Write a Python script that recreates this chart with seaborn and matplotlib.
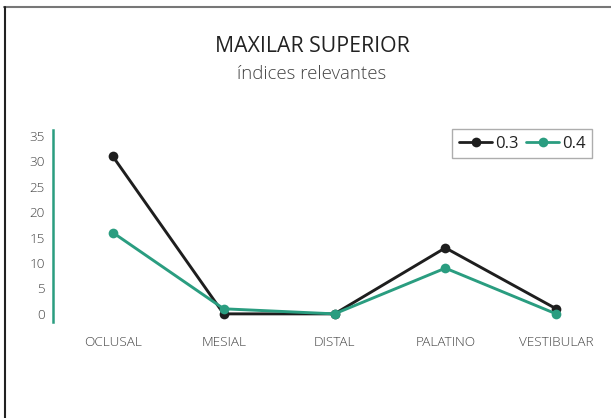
import matplotlib
matplotlib.use("Agg")
import matplotlib.pyplot as plt
import seaborn as sns
import pandas as pd
from matplotlib.lines import Line2D

categories = ["OCLUSAL", "MESIAL", "DISTAL", "PALATINO", "VESTIBULAR"]
series_03 = [31, 0, 0, 13, 1]
series_04 = [16, 1, 0, 9, 0]
series_names = ["0.3", "0.4"]
yticks = [0, 5, 10, 15, 20, 25, 30, 35]

sns.set_theme(style="white")
plt.rcParams["font.family"] = ["Open Sans", "DejaVu Sans"]

rows = []
for name, vals in zip(series_names, [series_03, series_04]):
    for i, (c, v) in enumerate(zip(categories, vals)):
        rows.append({"idx": i, "cat": c, "val": v, "serie": name})
df = pd.DataFrame(rows)

black = "#1e1e1e"
teal = "#2a9d80"

fig = plt.figure(figsize=(6.11, 4.18), dpi=100)
ax = fig.add_axes([53/611, 1-322/418, (595-53)/611, (322-130)/418])

sns.lineplot(data=df, x="idx", y="val", hue="serie", palette=[black, teal],
             marker="o", markersize=7, markeredgewidth=0, linewidth=2.1,
             ax=ax, legend=False)

ax.set_xlim(-0.54, 4.35)
ax.set_ylim(-1.6, 36.2)
ax.set_xticks(range(len(categories)))
ax.set_xticklabels(categories)
ax.set_yticks(yticks)
ax.set_xlabel("")
ax.set_ylabel("")
for s in ["top", "right", "bottom"]:
    ax.spines[s].set_visible(False)
ax.spines["left"].set_color(teal)
ax.spines["left"].set_linewidth(1.8)
ax.tick_params(axis="both", length=0, labelsize=9.7, labelcolor="#444444")
ax.tick_params(axis="x", pad=10)
ax.tick_params(axis="y", pad=6)
for lbl in ax.get_xticklabels() + ax.get_yticklabels():
    lbl.set_fontweight("light")

handles = [Line2D([], [], color=black, marker="o", markersize=7, markeredgewidth=0, linewidth=2),
           Line2D([], [], color=teal, marker="o", markersize=7, markeredgewidth=0, linewidth=2)]
leg = ax.legend(handles, series_names, loc="upper right", ncol=2,
                bbox_to_anchor=(592/611, 1-129/418), bbox_transform=fig.transFigure,
                frameon=True, fancybox=False, fontsize=12, handlelength=2.0,
                handletextpad=0.15, columnspacing=0.45, borderpad=0.4,
                borderaxespad=0)
leg.get_frame().set_edgecolor("#999999")
leg.get_frame().set_linewidth(1)
for t in leg.get_texts():
    t.set_color("#222222")

fig.text(312/611, 1-47/418, "MAXILAR SUPERIOR", ha="center", va="center",
         fontsize=15.3, color="#222222")
fig.text(312/611, 1-74/418, "índices relevantes", ha="center", va="center",
         fontsize=13.4, color="#444444", fontweight="light")

# outer frame lines (top and left)
fig.add_artist(Line2D([4/611, 1], [1-6.5/418, 1-6.5/418], transform=fig.transFigure,
                      color="#777777", linewidth=1.5))
fig.add_artist(Line2D([5/611, 5/611], [0, 1-6.5/418], transform=fig.transFigure,
                      color="#222222", linewidth=1.5))

fig.savefig("out.png", dpi=100)
